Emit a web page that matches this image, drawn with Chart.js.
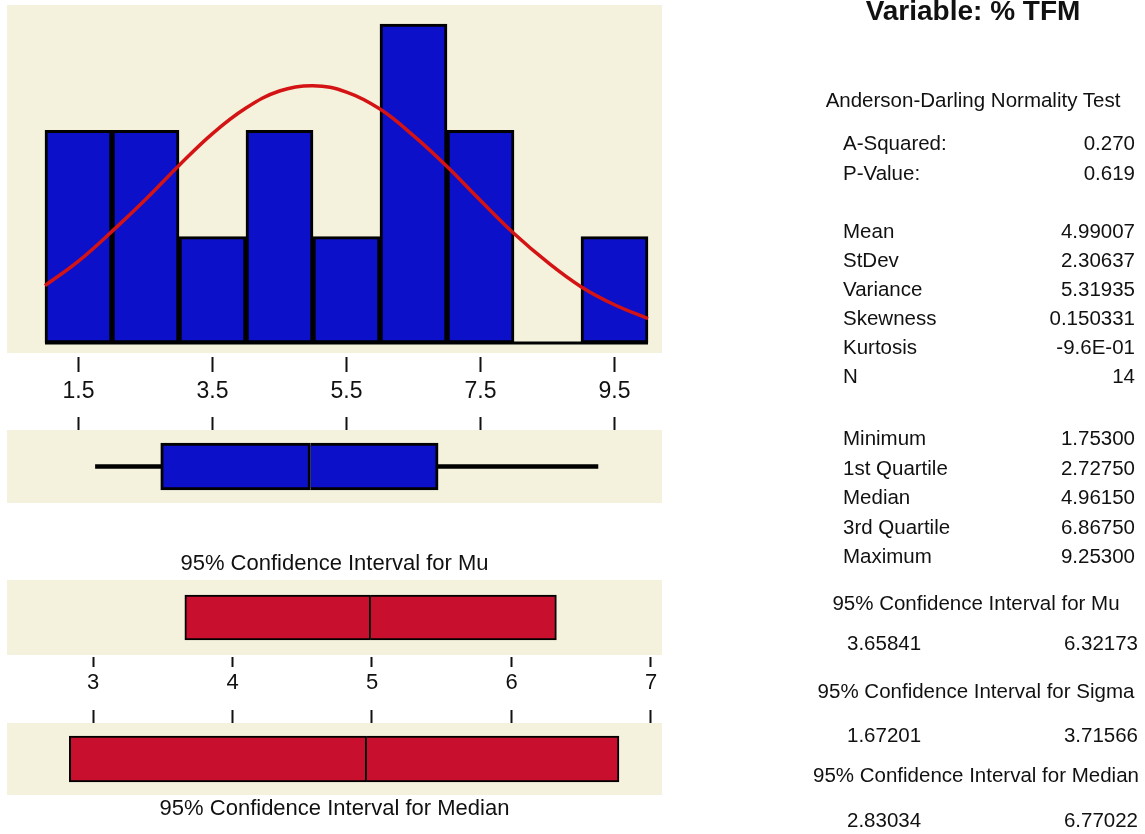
<!DOCTYPE html>
<html>
<head>
<meta charset="utf-8">
<script src="https://cdn.jsdelivr.net/npm/chart.js@4.4.1/dist/chart.umd.min.js"></script>
<style>
  body { margin: 0; background: #fff; width: 1145px; height: 834px; position: relative; overflow: hidden; }
  .panel { position: absolute; left: 7px; width: 655px; background: #f4f2dc; }
  canvas { position: absolute; left: 7px; }
  svg { position: absolute; left: 0; top: 0; }
  svg text { font-family: 'Liberation Sans', Arial, sans-serif; font-size: 20.5px; fill: #111; }
</style>
</head>
<body>
<div class="panel" style="top:5px;height:348px"></div>
<div class="panel" style="top:430px;height:73px"></div>
<div class="panel" style="top:580px;height:75px"></div>
<div class="panel" style="top:723px;height:72px"></div>

<canvas id="hist" width="655" height="405" style="top:5px"></canvas>
<canvas id="box" width="655" height="86" style="top:417px"></canvas>
<canvas id="ciMu" width="655" height="155" style="top:545px"></canvas>
<canvas id="ciMed" width="655" height="134" style="top:700px"></canvas>

<svg id="stats" width="1145" height="834"></svg>

<script>
// histogram bins (midpoints) and counts
const binMids = [1.5, 2.5, 3.5, 4.5, 5.5, 6.5, 7.5, 8.5, 9.5];
const binCounts = [2, 2, 1, 2, 1, 3, 2, 0, 1];
const histTicks = [1.5, 3.5, 5.5, 7.5, 9.5];

// fitted normal curve (in counts)
const curveX = [1.0, 1.5, 2.0, 2.5, 3.0, 3.5, 4.0, 4.5, 5.0, 5.5, 6.0, 6.5, 7.0, 7.5, 8.0, 8.5, 9.0, 9.5, 10.0];
const curveY = [0.54, 0.77, 1.05, 1.35, 1.67, 1.97, 2.21, 2.37, 2.42, 2.36, 2.20, 1.95, 1.66, 1.34, 1.03, 0.76, 0.53, 0.36, 0.23];

// boxplot: min, q1, median, q3, max
const boxStats = [1.753, 2.7275, 4.9615, 6.8675, 9.253];

// confidence intervals: low, centre, high
const muCI = [3.65841, 4.99007, 6.32173];
const medianCI = [2.83034, 4.9615, 6.77022];
const ciTicks = [3, 4, 5, 6, 7];

// right-hand summary
const adLabels = ['A-Squared:', 'P-Value:'];
const adValues = ['0.270', '0.619'];
const momentLabels = ['Mean', 'StDev', 'Variance', 'Skewness', 'Kurtosis', 'N'];
const momentValues = ['4.99007', '2.30637', '5.31935', '0.150331', '-9.6E-01', '14'];
const quantLabels = ['Minimum', '1st Quartile', 'Median', '3rd Quartile', 'Maximum'];
const quantValues = ['1.75300', '2.72750', '4.96150', '6.86750', '9.25300'];
const ciHeads = ['95% Confidence Interval for Mu', '95% Confidence Interval for Sigma', '95% Confidence Interval for Median'];
const ciLows = ['3.65841', '1.67201', '2.83034'];
const ciHighs = ['6.32173', '3.71566', '6.77022'];

const BLUE = '#0c10c8';
const RED = '#c8102e';
const CURVE = '#d41414';
const INK = '#111';

Chart.defaults.font.family = "'Liberation Sans', Arial, sans-serif";
Chart.defaults.color = INK;
Chart.defaults.animation = false;
Chart.defaults.plugins.legend.display = false;
Chart.defaults.plugins.tooltip.enabled = false;

function fixHeight(h) {
  return function (scale) { scale.height = h; };
}
function setTicks(list) {
  return function (scale) { scale.ticks = list.map(v => ({ value: v })); };
}

// histogram with normal curve
new Chart(document.getElementById('hist'), {
  type: 'bar',
  data: {
    datasets: [
      {
        type: 'line',
        data: curveX.map((x, i) => ({ x: x, y: curveY[i] })),
        borderColor: CURVE,
        borderWidth: 3.5,
        tension: 0.4,
        pointRadius: 0,
        order: 0
      },
      {
        type: 'line',
        data: [{ x: binMids[0] - 0.5, y: 0 }, { x: binMids[binMids.length - 1] + 0.5, y: 0 }],
        borderColor: '#000',
        borderWidth: 3,
        pointRadius: 0,
        order: 1
      },
      {
        data: binMids.map((x, i) => ({ x: x, y: binCounts[i] })),
        backgroundColor: BLUE,
        borderColor: '#000',
        borderWidth: 3,
        borderSkipped: false,
        barPercentage: 1,
        categoryPercentage: 1,
        order: 2
      }
    ]
  },
  options: {
    responsive: false,
    layout: { padding: 0 },
    scales: {
      x: {
        type: 'linear',
        min: 0.433, max: 10.209,
        offset: false,
        afterFit: fixHeight(57),
        afterBuildTicks: setTicks(histTicks),
        border: { display: false },
        grid: { offset: false, drawOnChartArea: false, tickLength: 19, tickWidth: 2, tickColor: INK, tickBorderDash: [0, 4, 15, 100] },
        ticks: { padding: 6, font: { size: 23 }, maxRotation: 0 }
      },
      y: { display: false, min: -0.094, max: 3.179 }
    }
  }
});

// boxplot
new Chart(document.getElementById('box'), {
  type: 'bar',
  data: {
    labels: [''],
    datasets: [
      { data: [[boxStats[1], boxStats[2]]], backgroundColor: BLUE, borderColor: '#000', borderWidth: 3, borderSkipped: false, barThickness: 47, grouped: false },
      { data: [[boxStats[2], boxStats[3]]], backgroundColor: BLUE, borderColor: '#000', borderWidth: 3, borderSkipped: 'left', barThickness: 47, grouped: false },
      { data: [[boxStats[0], boxStats[1]]], backgroundColor: '#000', borderWidth: 0, barThickness: 4, grouped: false },
      { data: [[boxStats[3], boxStats[4]]], backgroundColor: '#000', borderWidth: 0, barThickness: 4, grouped: false }
    ]
  },
  options: {
    responsive: false,
    indexAxis: 'y',
    layout: { padding: 0 },
    scales: {
      x: {
        type: 'linear', position: 'top',
        min: 0.433, max: 10.209, beginAtZero: false,
        afterFit: fixHeight(13),
        afterBuildTicks: setTicks(histTicks),
        border: { display: false },
        grid: { offset: false, drawOnChartArea: false, tickLength: 13, tickWidth: 2, tickColor: INK },
        ticks: { display: false }
      },
      y: { display: false }
    }
  }
});

function ciChart(id, ci, titleText, titlePos, axisPos) {
  const bottom = axisPos === 'bottom';
  return new Chart(document.getElementById(id), {
    type: 'bar',
    data: {
      labels: [''],
      datasets: [
        { data: [[ci[0], ci[1]]], backgroundColor: RED, borderColor: '#000', borderWidth: 2, borderSkipped: false, barThickness: bottom ? 45 : 46, grouped: false },
        { data: [[ci[1], ci[2]]], backgroundColor: RED, borderColor: '#000', borderWidth: 2, borderSkipped: 'left', barThickness: bottom ? 45 : 46, grouped: false }
      ]
    },
    options: {
      responsive: false,
      indexAxis: 'y',
      layout: { padding: 0 },
      plugins: {
        title: {
          display: true, text: titleText, position: titlePos, color: INK,
          font: { size: 22, weight: 'normal' },
          padding: titlePos === 'top' ? { top: 6, bottom: 2.6 } : { top: 1, bottom: 11.6 }
        }
      },
      scales: {
        x: {
          type: 'linear', position: axisPos,
          min: 2.3835, max: 7.0789, beginAtZero: false,
          afterFit: fixHeight(bottom ? 45 : 23),
          afterBuildTicks: setTicks(ciTicks),
          border: { display: false },
          grid: bottom
            ? { offset: false, drawOnChartArea: false, tickLength: 12, tickWidth: 2, tickColor: INK, tickBorderDash: [0, 2, 10, 100] }
            : { offset: false, drawOnChartArea: false, tickLength: 13, tickWidth: 2, tickColor: INK },
          ticks: bottom ? { padding: 3, font: { size: 22 }, maxRotation: 0 } : { display: false }
        },
        y: { display: false }
      }
    }
  });
}
ciChart('ciMu', muCI, '95% Confidence Interval for Mu', 'top', 'bottom');
ciChart('ciMed', medianCI, '95% Confidence Interval for Median', 'bottom', 'top');

// right-hand text summary
const svg = document.getElementById('stats');
function addText(str, x, y, anchor, extra) {
  const t = document.createElementNS('http://www.w3.org/2000/svg', 'text');
  t.setAttribute('x', x);
  t.setAttribute('y', y);
  t.setAttribute('text-anchor', anchor);
  if (extra) t.setAttribute('style', extra);
  t.textContent = str;
  svg.appendChild(t);
}
const labX = 843, valX = 1135, midX = 975;
addText('Variable: % TFM', 973, 20, 'middle', 'font-size:28px;font-weight:bold');
addText('Anderson-Darling Normality Test', midX - 2, 107, 'middle');
const adY = [150, 180];
adLabels.forEach((s, i) => { addText(s, labX, adY[i], 'start'); addText(adValues[i], valX, adY[i], 'end'); });
momentLabels.forEach((s, i) => { addText(s, labX, 238 + i * 29, 'start'); addText(momentValues[i], valX, 238 + i * 29, 'end'); });
quantLabels.forEach((s, i) => { addText(s, labX, 445 + i * 29.5, 'start'); addText(quantValues[i], valX, 445 + i * 29.5, 'end'); });
const headY = [610, 698, 782];
const valY = [650, 742, 827];
ciHeads.forEach((s, i) => {
  addText(s, midX + 1, headY[i], 'middle');
  addText(ciLows[i], 847, valY[i], 'start');
  addText(ciHighs[i], 1138, valY[i], 'end');
});
</script>
</body>
</html>
